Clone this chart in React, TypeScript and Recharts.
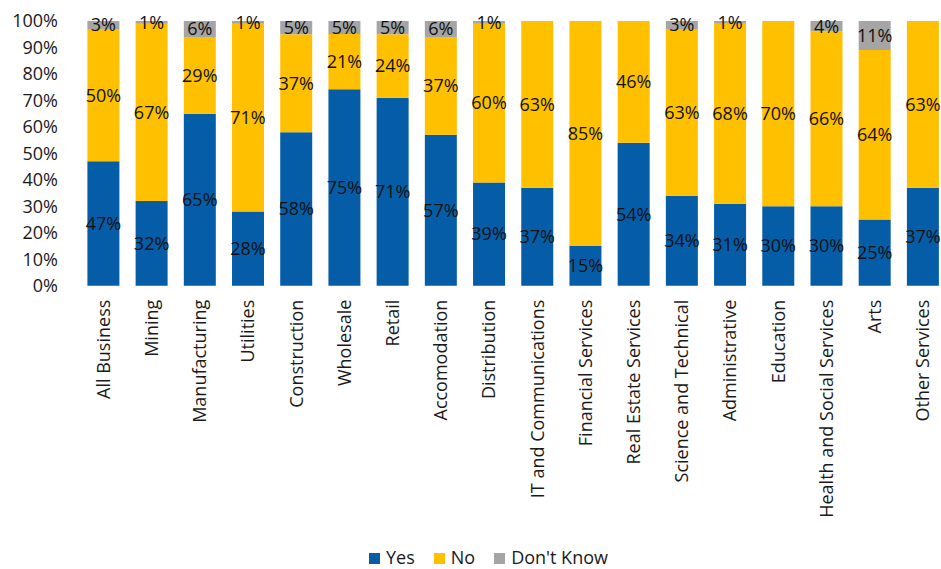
import { BarChart, Bar, XAxis, YAxis, Legend, LabelList } from 'recharts';

// categories and shares (%)
const categories = [
  'All Business',
  'Mining',
  'Manufacturing',
  'Utilities',
  'Construction',
  'Wholesale',
  'Retail',
  'Accomodation',
  'Distribution',
  'IT and Communications',
  'Financial Services',
  'Real Estate Services',
  'Science and Technical',
  'Administrative',
  'Education',
  'Health and Social Services',
  'Arts',
  'Other Services',
];
const yesValues = [47, 32, 65, 28, 58, 75, 71, 57, 39, 37, 15, 54, 34, 31, 30, 30, 25, 37];
const noValues = [50, 67, 29, 71, 37, 21, 24, 37, 60, 63, 85, 46, 63, 68, 70, 66, 64, 63];
const dontKnowValues = [3, 1, 6, 1, 5, 5, 5, 6, 1, 0, 0, 0, 3, 1, 0, 4, 11, 0];
const yTicks = [0, 0.1, 0.2, 0.3, 0.4, 0.5, 0.6, 0.7, 0.8, 0.9, 1];

const FONT = '"Open Sans", sans-serif';
const BLUE = '#055DA8';
const YELLOW = '#FFC000';
const GREY = '#A5A5A5';

const data = categories.map((name, i) => ({
  name,
  yes: yesValues[i],
  no: noValues[i],
  dontKnow: dontKnowValues[i],
}));

const legendItems = [
  { label: 'Yes', color: BLUE },
  { label: 'No', color: YELLOW },
  { label: "Don't Know", color: GREY },
];

/**
 * Rotated category label, reads bottom to top
 */
function CategoryTick({ x, y, payload }: any) {
  return (
    <text
      x={x}
      y={y}
      transform={`rotate(-90, ${x}, ${y})`}
      textAnchor="end"
      dy="0.35em"
      fontSize={18}
      fontFamily={FONT}
      fill="#1a1a1a"
    >
      {payload.value}
    </text>
  );
}

function ChartLegend() {
  return (
    <div
      style={{
        display: 'flex',
        alignItems: 'center',
        height: 18,
        lineHeight: '18px',
        fontFamily: FONT,
        fontSize: 18,
        color: '#1a1a1a',
        whiteSpace: 'nowrap',
      }}
    >
      {legendItems.map((item) => (
        <div key={item.label} style={{ display: 'flex', alignItems: 'center', marginRight: 19 }}>
          <span style={{ width: 11, height: 11, background: item.color, marginRight: 6, marginTop: 2 }} />
          <span>{item.label}</span>
        </div>
      ))}
    </div>
  );
}

const pct = (v: any) => (v ? `${v}%` : '');

export default function App() {
  return (
    <div style={{ position: 'absolute', left: 0, top: 0, width: 941, height: 569, overflow: 'hidden', background: '#fff' }}>
      <BarChart
        width={960}
        height={569}
        data={data}
        stackOffset="expand"
        barSize={32}
        margin={{ top: 21, right: 12.9, left: 0, bottom: 0 }}
      >
        <XAxis
          dataKey="name"
          interval={0}
          axisLine={false}
          tickLine={false}
          tickMargin={8}
          height={265.3}
          tick={<CategoryTick />}
        />
        <YAxis
          width={79.4}
          domain={[0, 1]}
          ticks={yTicks}
          axisLine={false}
          tickLine={false}
          tickMargin={15.4}
          tickFormatter={(v) => `${Math.round(v * 100)}%`}
          tick={{ fontSize: 18, fontFamily: FONT, fill: '#1a1a1a' }}
        />
        <Legend
          verticalAlign="bottom"
          height={18}
          content={<ChartLegend />}
          wrapperStyle={{ left: 369, top: 548, width: 'auto', bottom: 'auto', height: 18 }}
        />
        <Bar dataKey="yes" name="Yes" stackId="a" fill={BLUE} isAnimationActive={false}>
          <LabelList dataKey="yes" position="center" formatter={pct} fontSize={18} fontFamily={FONT} fill="#111" />
        </Bar>
        <Bar dataKey="no" name="No" stackId="a" fill={YELLOW} isAnimationActive={false}>
          <LabelList dataKey="no" position="center" formatter={pct} fontSize={18} fontFamily={FONT} fill="#111" />
        </Bar>
        <Bar dataKey="dontKnow" name="Don't Know" stackId="a" fill={GREY} isAnimationActive={false}>
          <LabelList dataKey="dontKnow" position="center" formatter={pct} fontSize={18} fontFamily={FONT} fill="#111" />
        </Bar>
      </BarChart>
    </div>
  );
}
